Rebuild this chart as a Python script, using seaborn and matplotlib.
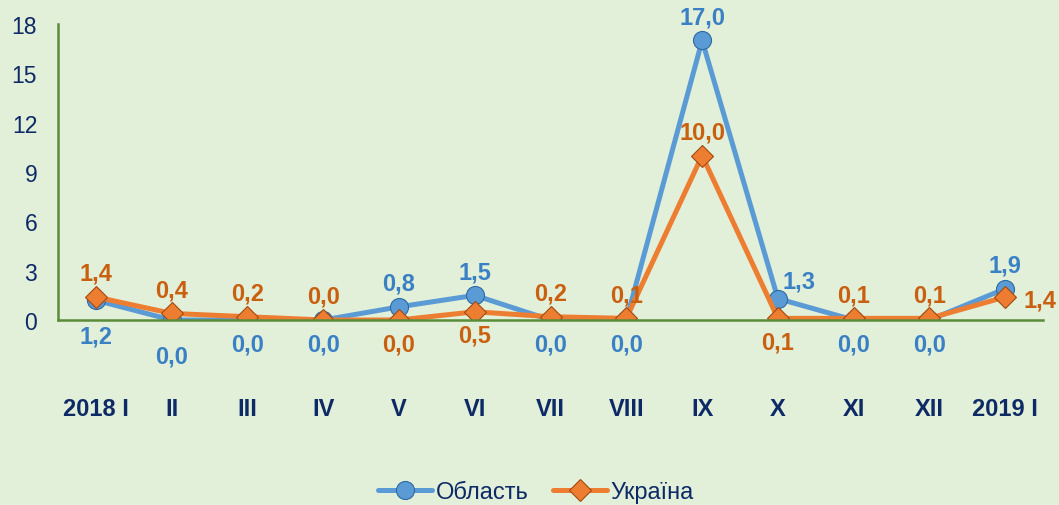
import numpy as np
import pandas as pd
import matplotlib.pyplot as plt
import seaborn as sns

# Data
months = ['2018 I', 'II', 'III', 'IV', 'V', 'VI', 'VII', 'VIII',
          'IX', 'X', 'XI', 'XII', '2019 I']
oblast = [1.2, 0.0, 0.0, 0.0, 0.8, 1.5, 0.0, 0.0, 17.0, 1.3, 0.0, 0.0, 1.9]
ukraine = [1.4, 0.4, 0.2, 0.0, 0.0, 0.5, 0.2, 0.1, 10.0, 0.1, 0.1, 0.1, 1.4]

# label placement: 'a' above, 'b' below, 'B' further below, 'r' right, 'ar' above-right
oblast_pos = ['B', 'B', 'b', 'b', 'a', 'a', 'b', 'b', 'a', 'ar', 'b', 'b', 'a']
ukraine_pos = ['a', 'a', 'a', 'a', 'b', 'b', 'a', 'a', 'a', 'b', 'a', 'a', 'r']

BG = '#e2efd9'
AXIS_GREEN = '#5b8c3a'
NAVY = '#0d2a66'
BLUE = '#5b9bd5'
ORANGE = '#ed7d31'
BLUE_TXT = '#3a80c4'
ORANGE_TXT = '#c8600f'

sns.set_theme(style="white")
plt.rcParams['font.family'] = ['Liberation Sans', 'DejaVu Sans']

df = pd.DataFrame({
    'x': list(range(len(months))) * 2,
    'value': oblast + ukraine,
    'series': ['Область'] * len(months) + ['Україна'] * len(months),
})

fig = plt.figure(figsize=(10.59, 5.06), dpi=100, facecolor=BG)
ax = fig.add_axes([0.0548, 0.3656, 0.9302, 0.585])
ax.set_facecolor(BG)

sns.lineplot(data=df, x='x', y='value', hue='series', style='series',
             palette={'Область': BLUE, 'Україна': ORANGE},
             markers={'Область': 'o', 'Україна': 'D'},
             dashes=False, linewidth=3.6, markersize=12,
             ax=ax, legend=False)

# marker sizes and edge shading
for line, edge, ms in zip(ax.lines, ['#2e6aa3', '#a14a10'], [13, 11]):
    line.set_markeredgecolor(edge)
    line.set_markeredgewidth(0.8)
    line.set_markersize(ms)

OFFSETS = {
    'a': ((0, 17), 'center'),
    'b': ((0, -17), 'center'),
    'B': ((0, -26), 'center'),
    'r': ((13, -2), 'left'),
    'ar': ((15, 13), 'center'),
}


def put_labels(vals, pos, color):
    for i, (v, p) in enumerate(zip(vals, pos)):
        txt = f'{v:.1f}'.replace('.', ',')
        off, ha = OFFSETS[p]
        ax.annotate(txt, (i, v), xytext=off, textcoords='offset points',
                    ha=ha, va='center', color=color, fontsize=17,
                    fontweight='bold', annotation_clip=False)


put_labels(oblast, oblast_pos, BLUE_TXT)
put_labels(ukraine, ukraine_pos, ORANGE_TXT)

ax.set_xlim(-0.5, len(months) - 0.5)
ax.set_ylim(0, 18)
ax.set_yticks(range(0, 19, 3))
ax.set_xticks(np.arange(-0.5, len(months), 1.0))
ax.set_xticklabels([])
for i, m in enumerate(months):
    ax.annotate(m, (i, 0), xycoords=('data', 'axes fraction'),
                xytext=(0, -64), textcoords='offset points',
                ha='center', va='center', fontsize=17, fontweight='bold',
                color=NAVY, annotation_clip=False)
ax.tick_params(axis='x', which='major', length=5, width=1.5, color=AXIS_GREEN, direction='out')
ax.tick_params(axis='y', length=5, width=1.5, color=AXIS_GREEN, direction='out',
               labelsize=16.5, labelcolor=NAVY, pad=10)
ax.set_xlabel('')
ax.set_ylabel('')

for side in ['top', 'right']:
    ax.spines[side].set_visible(False)
for side in ['left', 'bottom']:
    ax.spines[side].set_color(AXIS_GREEN)
    ax.spines[side].set_linewidth(1.8)

handles = [
    plt.Line2D([], [], color=BLUE, lw=3.6, marker='o', markersize=13,
               markeredgecolor='#2e6aa3', markeredgewidth=0.8),
    plt.Line2D([], [], color=ORANGE, lw=3.6, marker='D', markersize=11,
               markeredgecolor='#a14a10', markeredgewidth=0.8),
]
fig.legend(handles, ['Область', 'Україна'], loc='center',
           bbox_to_anchor=(0.506, 0.026), ncol=2, frameon=False,
           fontsize=17, labelcolor=NAVY, handlelength=2.3, handletextpad=0.15,
           columnspacing=1.05, borderpad=0)

fig.savefig('out.png', dpi=100, facecolor=BG)
